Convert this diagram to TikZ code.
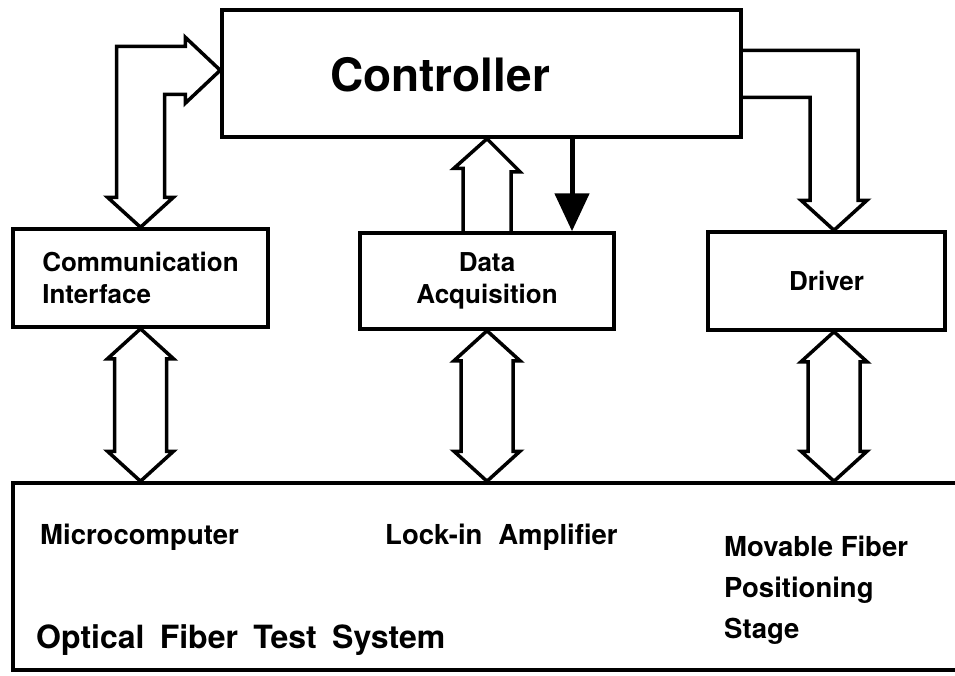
\documentclass[tikz,border=0pt]{standalone}
\usepackage{fontspec}
\setmainfont{TeX Gyre Heros}
\usepackage{tikz}
\usetikzlibrary{arrows.meta,positioning,calc}

\begin{document}
\begin{tikzpicture}[
    x=1pt, y=1pt,
    box/.style={draw, line width=3.5pt, inner sep=0pt, align=center, font=\bfseries\fontsize{26}{32}\selectfont},
    fat/.style={draw, line width=3.5pt, line join=miter},
    lbl/.style={font=\bfseries\fontsize{27.5}{41}\selectfont, inner sep=0pt},
    arr/.style={-{Triangle[length=38pt,width=34pt]}, line width=5pt},
]
  \useasboundingbox (0,0) rectangle (955,-675);
  \fill[white] (0,0) rectangle (955,-675);

  % blocks
  \node[box, minimum width=519pt, minimum height=127pt] (ctrl) at (481.5,-73.5) {};
  \node[font=\bfseries\fontsize{46}{52}\selectfont] (ctrltxt) at (440,-75) {Controller};
  \node[box, align=left, minimum width=255pt, minimum height=98pt] (comm) at (140.5,-278) {Communication\\Interface};
  \node[box, minimum width=254pt, minimum height=96pt] (daq) at (487,-281) {Data\\Acquisition};
  \node[box, minimum width=237pt, minimum height=98pt] (drv) at (826.5,-281) {Driver};
  \node[box, minimum width=967pt, minimum height=187pt] (ofts) at (496.5,-576.5) {};

  \node[lbl, anchor=west] (micro) at (40,-537) {Microcomputer};
  \node[lbl, anchor=west] (lockin) at (385,-537) {Lock-in\hspace{0.3em} Amplifier};
  \node[lbl, anchor=west, align=left] (stage) at (724,-590) {Movable Fiber\\Positioning\\Stage};
  \node[font=\bfseries\fontsize{32}{38}\selectfont, inner sep=0pt, anchor=west] (systxt) at (36,-640) {Optical\hspace{0.2em} Fiber\hspace{0.2em} Test\hspace{0.2em} System};

  \coordinate (ctip) at ($(ctrl.north west)+(0,-62)$);
  \coordinate (dtip) at ($(drv.north)+(7.5,0)$);

  % comm <-> controller
  \draw[fat] (ctip) -- ++(-35,-33) -- ++(0,9) -| ($(comm.north)+(24,30)$) -- ++(9,0)
    -- (comm.north) -- ++(-33,30) -- ++(9,0) |- ($(ctip)+(-35,24)$) -- ++(0,9) -- cycle;

  % controller -> driver
  \draw[fat] ($(ctrl.north east)+(0,-42)$) -| ($(dtip)+(24,30)$) -- ++(9,0) -- (dtip)
    -- ++(-33,30) -- ++(9,0) |- ($(ctrl.north east)+(0,-89)$);

  % data acquisition -> controller
  \draw[fat] ($(daq.north)+(-24,0)$) -- ++(0,63) -- ++(-9,0) -- (ctrl.south -| daq.north)
    -- ++(33,-33) -- ++(-9,0) -- ($(daq.north)+(24,0)$);
  \draw[arr] ($(ctrl.south)+(90.5,0)$) -- ($(daq.north)+(85,0)$);

  % to the test system
  \coordinate (t1) at (comm.south);  \coordinate (b1) at (comm.south |- ofts.north);
  \coordinate (t2) at (daq.south);   \coordinate (b2) at (daq.south |- ofts.north);
  \coordinate (t3) at ($(drv.south)+(7.5,0)$); \coordinate (b3) at (t3 |- ofts.north);
  \foreach \t/\b in {t1/b1,t2/b2,t3/b3}
    \draw[fat] (\t) -- ++(-33,-30) -- ++(7,0) -- ($(\b)+(-26,30)$) -- ++(-7,0) -- (\b)
      -- ++(33,30) -- ++(-7,0) -- ($(\t)+(26,-30)$) -- ++(7,0) -- cycle;
\end{tikzpicture}
\end{document}
